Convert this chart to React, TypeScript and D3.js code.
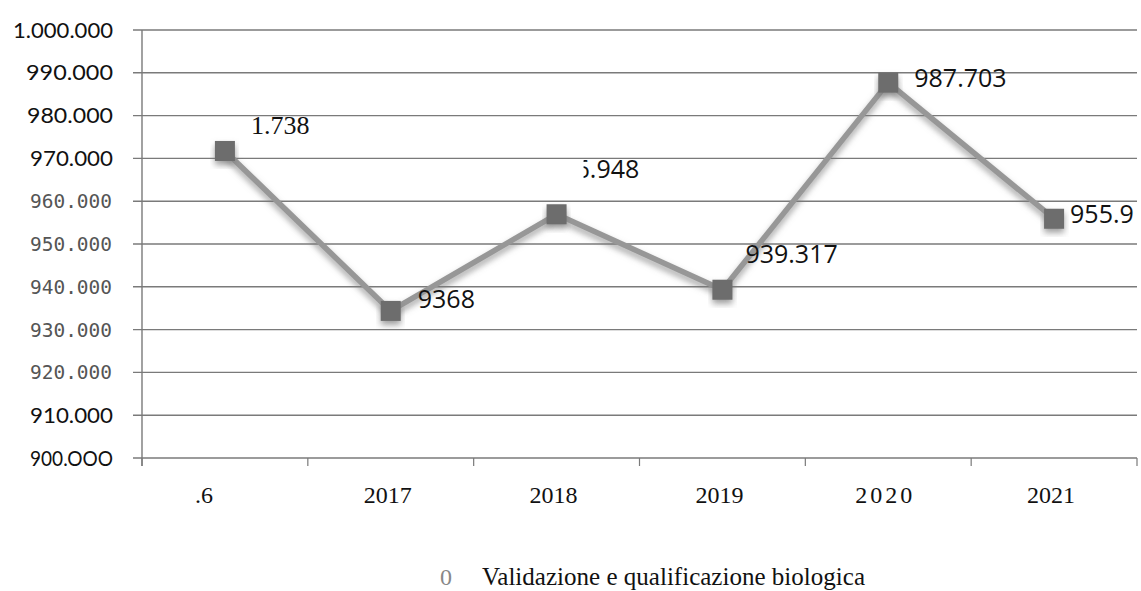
import React from "react";
import * as d3 from "d3";

const categories = ["2016", "2017", "2018", "2019", "2020", "2021"];
const tickLabels = [".6", "2017", "2018", "2019", "2020", "2021"];
const values = [971738, 934368, 956948, 939317, 987703, 955900];
const valueLabels = ["1.738", "9368", "6.948", "939.317", "987.703", "955.9"];
const yTicks = [900000, 910000, 920000, 930000, 940000, 950000, 960000, 970000, 980000, 990000, 1000000];
const yTickLabels = ["900.OOO", "910.000", "920.000", "930.000", "940.000", "950.000", "960.000", "970.000", "980.000", "990.000", "1.000.000"];
const legendLabel = "Validazione e qualificazione biologica";

// label offsets relative to the point: dx, dy (baseline), font kind
const labelOffsets: [number, number, string][] = [
  [26, -17, "serif"],
  [27, -3, "sans"],
  [19, -36, "sans"],
  [23, -27, "sans"],
  [26, 4, "sans"],
  [16, 4, "sans"],
];
// widths of y tick labels in reference, used to fit text
const yLabelWidths = [83, 83, 82, 82, 82, 82, 82, 83, 86, 87, 100];

const W = 1141;
const H = 591;
const left = 142;
const right = 1137;
const top = 30;
const bottom = 458;

export default function App() {
  const x = d3.scaleBand<string>().domain(categories).range([left, right]).padding(0);
  const y = d3.scaleLinear().domain([900000, 1000000]).range([bottom, top]);
  const cx = (c: string) => (x(c) as number) + x.bandwidth() / 2;
  const line = d3
    .line<number>()
    .x((_, i) => cx(categories[i]))
    .y((d) => y(d));
  const sansTicks = new Set([900000, 910000, 970000, 980000, 990000, 1000000]);
  const boundaries = categories.map((c) => x(c) as number).concat([right]);

  return (
    <svg width={W} height={H} style={{ position: "absolute", left: 0, top: 0, background: "#fff" }}>
      <defs>
        <filter id="sh" x="-20%" y="-20%" width="140%" height="160%">
          <feDropShadow dx="0" dy="4" stdDeviation="3" floodColor="#777" floodOpacity="0.7" />
        </filter>
        <clipPath id="clip18">
          <rect x={cx("2018") + 27} y={0} width={200} height={H} />
        </clipPath>
      </defs>
      <rect x={0} y={0} width={W} height={H} fill="#fff" />
      {yTicks.map((t) => (
        <line key={t} x1={133} x2={right} y1={y(t)} y2={y(t)} stroke="#7a7a7a" strokeWidth={1.4} />
      ))}
      <line x1={left} x2={left} y1={top} y2={bottom + 8} stroke="#7a7a7a" strokeWidth={1.4} />
      {boundaries.map((b, i) => (
        <line key={i} x1={b} x2={b} y1={bottom} y2={bottom + 8} stroke="#7a7a7a" strokeWidth={1.2} />
      ))}
      {yTicks.map((t, i) =>
        sansTicks.has(t) ? (
          <text key={t} x={113} y={y(t) + 7.5} textAnchor="end" fontFamily="Lato" fontSize={21} fill="#111" textLength={yLabelWidths[i]} lengthAdjust="spacingAndGlyphs">
            {yTickLabels[i]}
          </text>
        ) : (
          <text key={t} x={112} y={y(t) + 7} textAnchor="end" fontFamily="DejaVu Sans Mono" fontSize={19} fill="#555" textLength={yLabelWidths[i]} lengthAdjust="spacingAndGlyphs">
            {yTickLabels[i]}
          </text>
        )
      )}
      <path d={line(values) || ""} fill="none" stroke="#979797" strokeWidth={5.5} strokeLinejoin="round" filter="url(#sh)" />
      {values.map((v, i) => (
        <rect key={i} x={cx(categories[i]) - 10} y={y(v) - 10} width={20} height={20} fill="#6d6d6d" filter="url(#sh)" />
      ))}
      {values.map((v, i) => {
        const [dx, dy, f] = labelOffsets[i];
        const px = cx(categories[i]) + dx;
        const py = y(v) + dy;
        if (f === "serif")
          return (
            <text key={i} x={px} y={py} fontFamily="Liberation Serif" fontSize={26} fill="#111">
              {valueLabels[i]}
            </text>
          );
        return (
          <text
            key={i}
            x={px}
            y={py}
            fontFamily="Open Sans"
            fontSize={25}
            fill="#111"
            clipPath={i === 2 ? "url(#clip18)" : undefined}
          >
            {valueLabels[i]}
          </text>
        );
      })}
      {categories.map((c, i) =>
        i === 0 ? (
          <text key={c} x={195} y={503} fontFamily="Liberation Serif" fontSize={24} fill="#111">
            {tickLabels[i]}
          </text>
        ) : (
          <text key={c} x={cx(c) - 3} y={503} textAnchor="middle" fontFamily="Liberation Serif" fontSize={24} fill="#111" letterSpacing={i === 4 ? 3 : 0}>
            {tickLabels[i]}
          </text>
        )
      )}
      <text x={440} y={585} fontFamily="Liberation Serif" fontSize={24} fill="#888">0</text>
      <text x={482} y={585} fontFamily="Liberation Serif" fontSize={25} fill="#111" textLength={383} lengthAdjust="spacingAndGlyphs">
        {legendLabel}
      </text>
    </svg>
  );
}
